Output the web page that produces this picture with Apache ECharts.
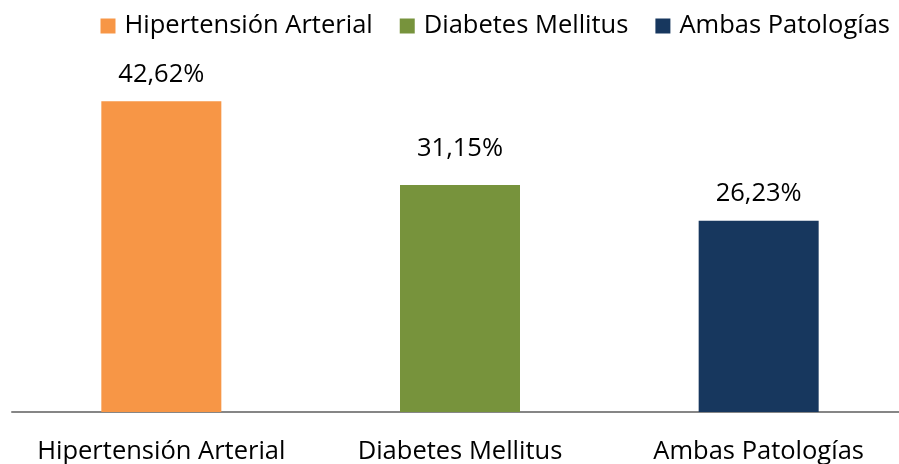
<!DOCTYPE html>
<html>
<head>
<meta charset="utf-8">
<style>
  html, body { margin: 0; padding: 0; background: #fff; overflow: hidden; }
  #wrap { width: 899px; height: 464px; overflow: hidden; }
  /* the plot runs a few pixels past the right edge, so the canvas is a bit wider */
  #chart { width: 908px; height: 464px; }
</style>
<script src="https://cdn.jsdelivr.net/npm/echarts@6/dist/echarts.min.js"></script>
</head>
<body>
<div id="wrap"><div id="chart"></div></div>
<script>
// Share of patients by condition (percent)
const categories = ['Hipertensión Arterial', 'Diabetes Mellitus', 'Ambas Patologías'];
const values = [42.62, 31.15, 26.23];
const colors = ['#F79646', '#77933C', '#17375E'];

const FONT = 'Open Sans';
const FS = 25.5;
// gap between each bar top and its value label (the middle one sits a little higher)
const labelGap = [14, 23, 14];

// One series per category so each gets its own legend entry;
// barGap -100% keeps every bar centred on its category.
const series = categories.map((name, i) => ({
  name: name,
  type: 'bar',
  barWidth: 120,
  barGap: '-100%',
  itemStyle: { color: colors[i] },
  data: categories.map((_, j) => (j === i ? values[i] : '-')),
  label: {
    show: true,
    position: 'top',
    distance: labelGap[i],
    color: '#000',
    fontFamily: FONT,
    fontSize: FS,
    formatter: p => p.value.toFixed(2).replace('.', ',') + '%'
  }
}));

const chart = echarts.init(document.getElementById('chart'), null, { renderer: 'canvas' });
chart.setOption({
  animation: false,
  legend: {
    right: 13,
    top: 8,
    itemWidth: 15,
    itemHeight: 15,
    itemGap: 27,
    icon: 'rect',
    textStyle: { fontFamily: FONT, fontSize: FS, color: '#000', padding: [0, 0, 0, 4] },
    data: categories
  },
  grid: { left: 12, top: 47.5, right: 0, bottom: 52, outerBoundsMode: 'none' },
  xAxis: {
    type: 'category',
    data: categories,
    axisLine: { lineStyle: { color: '#868686', width: 2 } },
    axisTick: { show: false },
    axisLabel: { color: '#000', fontFamily: FONT, fontSize: FS, margin: 27, interval: 0 }
  },
  yAxis: {
    type: 'value',
    min: 0,
    max: 50,
    show: false,
    splitLine: { show: false }
  },
  series: series
});
</script>
</body>
</html>
